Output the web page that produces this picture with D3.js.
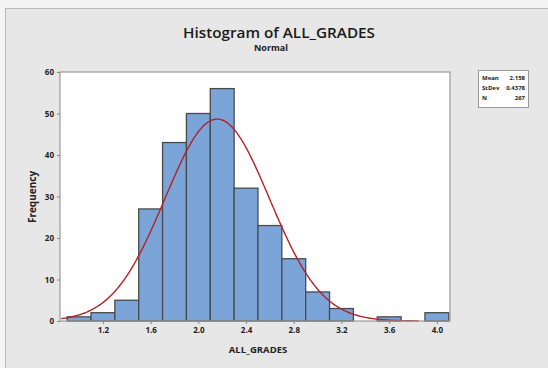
<!DOCTYPE html>
<html>
<head>
    <meta charset="utf-8">
    <title>Histogram of ALL_GRADES</title>
    <script src="https://d3js.org/d3.v7.min.js"></script>
    <style>
        html, body {
            margin: 0;
            background: #f4f4f4;
        }
        text {
            font-family: "Open Sans", "Liberation Sans", sans-serif;
        }
    </style>
</head>
<body>
    <svg id="svg"></svg>
    <script>
        // bin centres (width 0.2) and counts
        const binCenters = [1.0, 1.2, 1.4, 1.6, 1.8, 2.0, 2.2, 2.4, 2.6, 2.8, 3.0, 3.2, 3.4, 3.6, 3.8, 4.0];
        const counts = [1, 2, 5, 27, 43, 50, 56, 32, 23, 15, 7, 3, 0, 1, 0, 2];
        const binWidth = 0.2;
        const xTicks = [1.2, 1.6, 2.0, 2.4, 2.8, 3.2, 3.6, 4.0];
        const yTicks = [0, 10, 20, 30, 40, 50, 60];
        const statLabels = ["Mean", "StDev", "N"];
        const statValues = ["2.158", "0.4378", "267"];
        const mean = 2.158;
        const stdev = 0.4378;
        const n = 267;

        const width = 548, height = 368;
        const plot = { left: 60, right: 450, top: 72, bottom: 321 };

        const svg = d3.select("#svg")
        .attr("width", width)
        .attr("height", height);

        // panel
        svg.append("rect")
        .attr("x", 5.5).attr("y", 8.5)
        .attr("width", width).attr("height", height)
        .attr("fill", "#e7e7e7")
        .attr("stroke", "#b8b8b8");

        const x = d3.scaleLinear().domain([0.84, 4.11]).range([plot.left, plot.right]);
        const y = d3.scaleLinear().domain([0, 60]).range([plot.bottom, plot.top]);

        svg.append("rect")
        .attr("x", plot.left).attr("y", plot.top)
        .attr("width", plot.right - plot.left).attr("height", plot.bottom - plot.top)
        .attr("fill", "#fff");

        const data = binCenters.map((c, i) => ({ c, n: counts[i] }));

        svg.append("g").selectAll("rect")
        .data(data.filter(d => d.n > 0))
        .enter()
        .append("rect")
        .attr("x", d => x(d.c - binWidth / 2))
        .attr("width", d => x(d.c + binWidth / 2) - x(d.c - binWidth / 2))
        .attr("y", d => y(d.n))
        .attr("height", d => y(0) - y(d.n))
        .attr("fill", "#7ba5d8")
        .attr("stroke", "#4a4a4a")
        .attr("stroke-width", 1.3);

        // fitted normal curve
        const pdf = v => n * binWidth / (stdev * Math.sqrt(2 * Math.PI)) * Math.exp(-0.5 * ((v - mean) / stdev) ** 2);
        const xs = d3.range(0.85, 3.851, 0.01);
        svg.append("path")
        .datum(xs)
        .attr("d", d3.line().x(v => x(v)).y(v => y(pdf(v))))
        .attr("fill", "none")
        .attr("stroke", "#b5212b")
        .attr("stroke-width", 1.4);

        // frame
        svg.append("rect")
        .attr("x", plot.left).attr("y", plot.top)
        .attr("width", plot.right - plot.left).attr("height", plot.bottom - plot.top)
        .attr("fill", "none")
        .attr("stroke", "#9a9a9a")
        .attr("stroke-width", 1.2);

        const xAxis = svg.append("g")
        .attr("transform", `translate(0,${plot.bottom})`)
        .call(d3.axisBottom(x).tickValues(xTicks).tickFormat(d3.format(".1f")).tickSize(3).tickPadding(3));
        const yAxis = svg.append("g")
        .attr("transform", `translate(${plot.left},0)`)
        .call(d3.axisLeft(y).tickValues(yTicks).tickSize(3).tickPadding(3));

        [xAxis, yAxis].forEach(a => {
            a.select(".domain").remove();
            a.selectAll("line").attr("stroke", "#888");
            a.selectAll("text")
            .attr("fill", "#222")
            .attr("font-size", 8)
            .attr("font-weight", "bold")
            .style("font-family", "'Open Sans', sans-serif");
        });

        svg.append("text")
        .attr("x", 279).attr("y", 38)
        .attr("text-anchor", "middle")
        .attr("font-size", 14)
        .attr("font-weight", 600)
        .attr("fill", "#1a1a1a")
        .attr("textLength", 192)
        .attr("lengthAdjust", "spacingAndGlyphs")
        .text("Histogram of ALL_GRADES");

        svg.append("text")
        .attr("x", 271).attr("y", 51)
        .attr("text-anchor", "middle")
        .attr("font-size", 9)
        .attr("font-weight", "bold")
        .attr("fill", "#222")
        .text("Normal");

        svg.append("text")
        .attr("transform", "translate(36,197) rotate(-90)")
        .attr("text-anchor", "middle")
        .attr("font-size", 10)
        .attr("font-weight", "bold")
        .attr("fill", "#222")
        .text("Frequency");

        svg.append("text")
        .attr("x", 258).attr("y", 353)
        .attr("text-anchor", "middle")
        .attr("font-size", 9.5)
        .attr("font-weight", "bold")
        .attr("fill", "#222")
        .text("ALL_GRADES");

        // stats box
        const legend = svg.append("g");
        legend.append("rect")
        .attr("x", 478.5).attr("y", 70.5)
        .attr("width", 50).attr("height", 37)
        .attr("fill", "#fff")
        .attr("stroke", "#9a9a9a");

        legend.selectAll("text.lab")
        .data(statLabels)
        .enter()
        .append("text")
        .attr("class", "lab")
        .attr("x", 482)
        .attr("y", (d, i) => 80 + i * 10)
        .attr("font-size", 6)
        .attr("font-weight", "bold")
        .attr("fill", "#222")
        .text(d => d);

        legend.selectAll("text.val")
        .data(statValues)
        .enter()
        .append("text")
        .attr("class", "val")
        .attr("x", 525)
        .attr("y", (d, i) => 80 + i * 10)
        .attr("text-anchor", "end")
        .attr("font-size", 6)
        .attr("font-weight", "bold")
        .attr("fill", "#222")
        .text(d => d);
    </script>
</body>
</html>
